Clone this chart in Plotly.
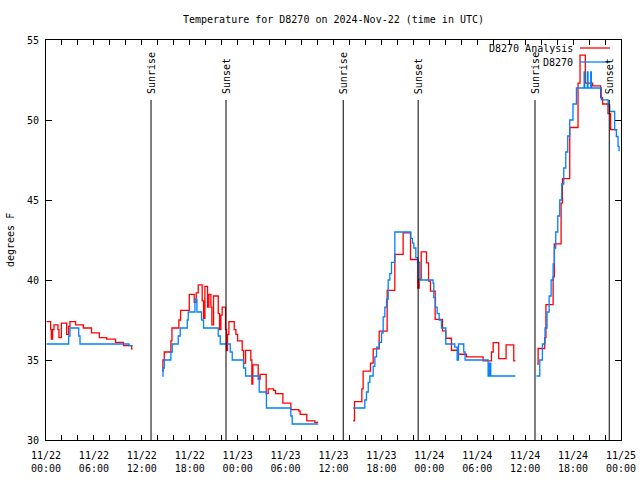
import pandas as pd
import plotly.graph_objects as go

START = pd.Timestamp("2024-11-22 00:00")

# ---- D8270 Analysis (red) : hours from 2024-11-22 00:00 UTC, degrees F ----
red_seg1_h = [0.08, 0.58, 0.67, 0.83, 1.0, 1.5, 1.62, 1.92, 2.59, 2.84, 3.0, 3.7, 4.67, 5.7, 6.68, 7.6, 8.7, 9.7, 10.72, 10.85]
red_seg1_v = [37.4, 36.9, 36.3, 36.9, 37.2, 36.9, 36.4, 37.3, 36.6, 37.1, 37.4, 37.2, 37.0, 36.7, 36.4, 36.3, 36.1, 35.9, 35.7, 35.7]

red_seg2_h = [14.56, 14.64, 14.81, 15.64, 15.77, 16.64, 16.85, 17.94, 18.56, 18.81, 19.06, 19.56, 19.73, 19.9,
              20.23, 20.4, 20.65, 20.77, 20.98, 21.57, 21.73, 21.9, 22.06, 22.48, 22.61, 22.73, 22.9, 23.57,
              23.78, 23.99, 24.57, 24.74, 24.99, 25.65, 25.78, 25.9, 26.57, 26.82, 27.57, 27.82, 28.49, 28.74,
              29.66, 30.66, 31.66, 31.83, 32.66, 33.66, 34.08]
red_seg2_v = [34.3, 35.0, 35.5, 36.2, 37.0, 37.5, 38.1, 39.1, 38.6, 39.2, 39.7, 38.7, 37.6, 39.6,
              38.3, 39.1, 38.3, 37.2, 39.0, 37.9, 36.9, 37.8, 38.3, 36.9, 35.6, 36.6, 37.4, 36.9,
              36.6, 36.2, 35.6, 34.8, 35.6, 35.0, 33.5, 34.7, 33.8, 34.1, 32.9, 33.2, 33.1, 32.9,
              32.3, 31.9, 31.8, 31.6, 31.2, 31.1, 31.1]

red_seg3_h = [38.46, 38.63, 39.55, 39.71, 40.63, 40.97, 41.72, 42.72, 43.68, 44.72, 45.64, 46.56, 46.73,
              46.98, 47.64, 47.9, 48.14, 48.73, 49.65, 50.06, 50.77, 51.65, 52.65, 54.73, 55.78, 55.99,
              56.69, 57.61, 58.57, 58.78]
red_seg3_v = [31.2, 32.4, 33.2, 34.3, 34.8, 35.7, 36.8, 39.35, 41.6, 42.94, 41.28, 39.5, 40.04,
              41.76, 41.07, 39.93, 39.31, 37.54, 36.82, 36.36, 35.61, 35.36, 35.19, 34.95, 35.5, 36.09,
              35.09, 35.94, 34.95, 34.95]

red_seg4_h = [61.5, 61.62, 62.45, 62.6, 63.5, 63.65, 64.5, 64.67, 65.58, 66.62, 66.87, 67.53, 68.45,
              69.45, 69.7, 70.37, 70.7, 71.55]
red_seg4_v = [34.74, 35.72, 36.4, 38.46, 40.2, 42.26, 44.8, 46.33, 49.53, 52.3, 54.05, 52.3, 52.13,
              51.4, 51.0, 50.4, 49.4, 49.4]

# ---- D8270 (blue) ----
blue_seg1_h = [0.08, 2.84, 3.0, 4.1, 4.26, 10.4, 10.85]
blue_seg1_v = [36.0, 36.5, 37.0, 36.5, 36.0, 35.9, 35.9]

blue_seg2_h = [14.56, 14.65, 14.81, 15.64, 15.81, 16.56, 16.81, 17.69, 17.81, 18.65, 18.9, 19.48, 19.73,
               21.57, 21.82, 23.07, 23.32, 24.74, 24.99, 26.7, 27.6, 30.66, 30.83, 34.08]
blue_seg2_v = [34.0, 34.5, 35.0, 35.5, 36.0, 36.5, 37.0, 37.5, 38.0, 38.8, 38.0, 37.5, 37.0,
               36.5, 36.0, 35.5, 35.0, 34.5, 34.0, 33.0, 32.0, 31.5, 31.0, 31.0]

blue_seg3_h = [38.46, 39.92, 40.13, 40.35, 40.55, 40.97, 41.18, 41.39, 41.72, 42.01, 42.22, 42.43, 42.64,
               42.85, 43.05, 43.26, 43.68, 45.68, 45.89, 46.06, 46.31, 46.52, 46.81, 48.47, 48.56, 48.77,
               48.98, 49.23, 49.52, 50.06, 51.19, 51.48, 51.65, 52.31, 52.48, 55.36, 55.53, 55.69, 55.9, 58.78]
blue_seg3_v = [32.0, 32.5, 33.0, 33.6, 34.0, 34.6, 35.2, 35.8, 36.1, 36.7, 37.7, 38.3, 38.8,
               40.0, 40.4, 41.1, 43.0, 42.6, 42.3, 42.0, 41.4, 41.1, 40.0, 39.8, 38.9, 38.3,
               37.9, 37.5, 37.0, 36.0, 35.8, 35.0, 36.0, 35.5, 35.0, 34.0, 34.8, 34.0, 34.0, 34.0]

blue_seg4_h = [61.41, 61.83, 62.16, 62.49, 62.74, 63.0, 63.25, 63.5, 63.66, 63.83, 64.08, 64.33, 64.58,
               64.83, 65.08, 65.33, 65.58, 65.99, 66.42, 67.38, 67.46, 67.79, 67.87, 68.21, 68.29, 69.55,
               70.38, 70.59, 71.21, 71.42, 71.63, 71.76]
blue_seg4_v = [34, 35, 36, 37, 38, 39, 40, 41, 42, 43, 44, 45, 46,
               47, 48, 49, 50, 51, 52, 53, 52, 53, 52, 53, 52, 51.26,
               50.95, 50.53, 49.39, 48.97, 48.35, 48.04]

# ---- Sunrise / sunset markers (hours from start) ----
sun_h = [13.15, 22.54, 37.22, 46.6, 61.23, 70.53]
sun_labels = ["Sunrise", "Sunset", "Sunrise", "Sunset", "Sunrise", "Sunset"]

# ---- Axis ticks ----
xtick_h = [0, 6, 12, 18, 24, 30, 36, 42, 48, 54, 60, 66, 72]
xtick_text = ["11/22<br>00:00", "11/22<br>06:00", "11/22<br>12:00", "11/22<br>18:00",
              "11/23<br>00:00", "11/23<br>06:00", "11/23<br>12:00", "11/23<br>18:00",
              "11/24<br>00:00", "11/24<br>06:00", "11/24<br>12:00", "11/24<br>18:00",
              "11/25<br>00:00"]
ytick_vals = [30, 35, 40, 45, 50, 55]

title_text = "Temperature for D8270 on 2024-Nov-22 (time in UTC)"
series_names = ["D8270 Analysis", "D8270"]
series_colors = ["#ff0000", "#0080ff"]

FONT = "DejaVu Sans Mono"
W, H = 640, 480


def to_time(hours):
    return [START + pd.Timedelta(hours=h) for h in hours]


def join(segs_h, segs_v):
    xs, ys = [], []
    for h, v in zip(segs_h, segs_v):
        if xs:
            xs.append(None)
            ys.append(None)
        xs.extend(to_time(h))
        ys.extend(v)
    return xs, ys


red_x, red_y = join([red_seg1_h, red_seg2_h, red_seg3_h, red_seg4_h],
                    [red_seg1_v, red_seg2_v, red_seg3_v, red_seg4_v])
blue_x, blue_y = join([blue_seg1_h, blue_seg2_h, blue_seg3_h, blue_seg4_h],
                      [blue_seg1_v, blue_seg2_v, blue_seg3_v, blue_seg4_v])

fig = go.Figure()
fig.add_trace(go.Scatter(x=red_x, y=red_y, mode="lines", name=series_names[0],
                         line=dict(color=series_colors[0], width=1.3, shape="hv"),
                         connectgaps=False, showlegend=False))
fig.add_trace(go.Scatter(x=blue_x, y=blue_y, mode="lines", name=series_names[1],
                         line=dict(color=series_colors[1], width=1.3, shape="hv"),
                         connectgaps=False, showlegend=False))

shapes = []
annotations = []
for h, lab in zip(sun_h, sun_labels):
    t = START + pd.Timedelta(hours=h)
    shapes.append(dict(type="line", xref="x", yref="paper", x0=t, x1=t, y0=0, y1=0.85,
                       line=dict(color="black", width=1)))
    annotations.append(dict(text=lab, x=t, y=0.86, xref="x", yref="paper",
                            xanchor="center", yanchor="bottom", textangle=-90,
                            showarrow=False, font=dict(family=FONT, size=10, color="black")))

# gnuplot-style key (text left, sample line right)
leg_y = [0.98, 0.945]
for name, col, y in zip(series_names, series_colors, leg_y):
    annotations.append(dict(text=name, x=0.92, y=y, xref="paper", yref="paper",
                            xanchor="right", yanchor="middle", showarrow=False,
                            font=dict(family=FONT, size=10, color="black")))
    shapes.append(dict(type="line", xref="paper", yref="paper", x0=0.9287, x1=0.9809,
                       y0=y, y1=y, line=dict(color=col, width=1.3)))

annotations.append(dict(text="degrees F", x=-0.0626, y=0.5, xref="paper", yref="paper",
                        xanchor="center", yanchor="middle", textangle=-90, showarrow=False,
                        font=dict(family=FONT, size=10, color="black")))

fig.update_layout(
    width=W, height=H,
    margin=dict(l=46, r=19, t=40, b=40, autoexpand=False),
    paper_bgcolor="white", plot_bgcolor="white",
    title=dict(text=title_text, x=0.5, xref="paper", y=1 - 19 / H, yref="container",
               xanchor="center", yanchor="middle",
               font=dict(family=FONT, size=10, color="black")),
    font=dict(family=FONT, size=10, color="black"),
    shapes=shapes, annotations=annotations,
    showlegend=False,
)
fig.update_xaxes(
    type="date", range=[START, START + pd.Timedelta(hours=72)], automargin=False,
    tickmode="array", tickvals=to_time(xtick_h), ticktext=xtick_text,
    ticks="inside", ticklen=5, tickcolor="black", mirror="allticks",
    showline=True, linecolor="black", linewidth=1, showgrid=False, zeroline=False,
    minor=dict(ticks="inside", ticklen=5, tickcolor="black", tick0=START,
               dtick=2 * 3600 * 1000, showgrid=False),
    tickfont=dict(family=FONT, size=10, color="black"), ticklabelstandoff=6,
)
fig.update_yaxes(
    range=[30, 55], tickmode="array", tickvals=ytick_vals, automargin=False,
    ticks="inside", ticklen=6, tickcolor="black", mirror="allticks",
    showline=True, linecolor="black", linewidth=1, showgrid=False, zeroline=False,
    tickfont=dict(family=FONT, size=10, color="black"), ticklabelstandoff=4,
)

fig.write_html("out.html", config={"displayModeBar": False},
               post_script="document.body.style.margin='0';document.body.style.overflow='hidden';")
